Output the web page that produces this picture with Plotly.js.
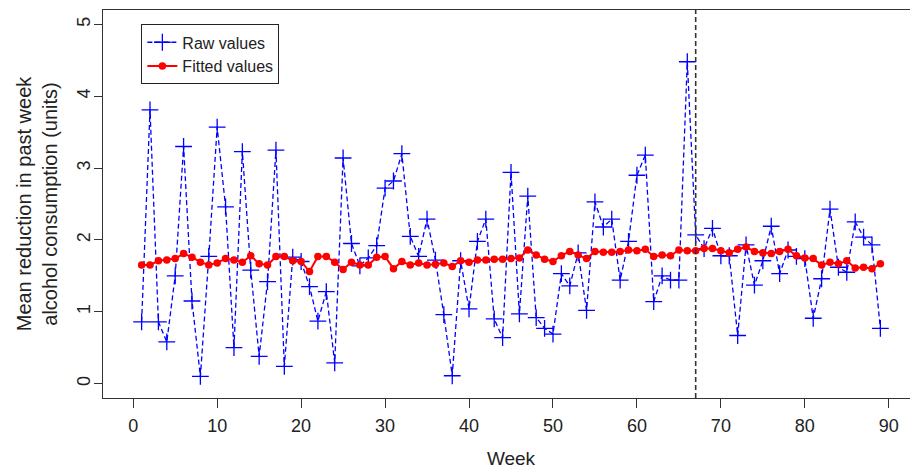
<!DOCTYPE html>
<html>
<head>
<meta charset="utf-8">
<script src="https://cdn.plot.ly/plotly-3.0.1.min.js"></script>
<style>
html, body { margin: 0; padding: 0; overflow: hidden; background: #ffffff; }
#chart { width: 930px; height: 469px; }
</style>
</head>
<body>
<div id="chart"></div>
<script>
// Week numbers 1..89
const weeks = [1,2,3,4,5,6,7,8,9,10,11,12,13,14,15,16,17,18,19,20,21,22,23,24,25,26,27,28,29,30,
  31,32,33,34,35,36,37,38,39,40,41,42,43,44,45,46,47,48,49,50,51,52,53,54,55,56,57,58,59,60,
  61,62,63,64,65,66,67,68,69,70,71,72,73,74,75,76,77,78,79,80,81,82,83,84,85,86,87,88,89];

const rawValues = [0.86,3.81,0.86,0.58,1.50,3.30,1.15,0.10,1.77,3.57,2.46,0.50,3.23,1.58,0.38,1.42,3.25,0.24,1.76,1.70,
  1.35,0.87,1.28,0.29,3.14,1.95,1.64,1.75,1.92,2.72,2.82,3.20,2.05,1.77,2.29,1.72,0.96,0.11,1.71,1.04,
  1.98,2.29,0.90,0.64,2.94,0.97,2.61,0.92,0.77,0.69,1.53,1.36,1.82,1.02,2.53,2.18,2.29,1.44,1.98,2.90,
  3.18,1.14,1.50,1.44,1.44,4.48,2.07,1.88,2.16,1.78,1.78,0.67,1.93,1.37,1.71,2.19,1.53,1.86,1.77,1.74,
  0.91,1.46,2.43,1.62,1.55,2.25,2.04,1.93,0.77];

const fittedValues = [1.65,1.65,1.71,1.72,1.74,1.81,1.76,1.69,1.65,1.68,1.74,1.72,1.69,1.78,1.67,1.65,1.77,1.77,1.71,1.70,
  1.56,1.77,1.77,1.69,1.59,1.69,1.65,1.65,1.76,1.77,1.60,1.70,1.65,1.68,1.65,1.66,1.68,1.63,1.71,1.69,
  1.72,1.72,1.73,1.73,1.74,1.75,1.86,1.79,1.73,1.70,1.78,1.84,1.79,1.74,1.84,1.83,1.83,1.84,1.86,1.85,
  1.87,1.77,1.79,1.78,1.86,1.85,1.85,1.88,1.88,1.85,1.82,1.87,1.90,1.84,1.82,1.81,1.84,1.87,1.78,1.75,
  1.74,1.65,1.69,1.67,1.71,1.61,1.62,1.60,1.67];

const xTicks = [0,10,20,30,40,50,60,70,80,90];
const yTicks = [0,1,2,3,4,5];
const cutWeek = 67;

const FONT = 'Liberation Sans, Arial, sans-serif';
const AX = '#333333';

const traces = [
  {
    x: weeks, y: rawValues, name: 'Raw values', type: 'scatter', mode: 'lines+markers',
    line: { color: '#0000ff', width: 1.3, dash: '5px,3px' },
    marker: { symbol: 'cross-thin', size: 12, line: { color: '#0000ff', width: 1.3 }, color: '#0000ff' }
  },
  {
    x: weeks, y: fittedValues, name: 'Fitted values', type: 'scatter', mode: 'lines+markers',
    line: { color: '#ff0000', width: 2 },
    marker: { symbol: 'circle', size: 7.5, color: '#ff0000' }
  }
];

const layout = {
  width: 930, height: 469,
  margin: { l: 103, r: 11, t: 10, b: 71, pad: 0 },
  paper_bgcolor: '#ffffff', plot_bgcolor: '#ffffff',
  font: { family: FONT, color: '#222222', size: 18 },
  showlegend: true,
  legend: {
    x: 0.047, y: 0.963, xanchor: 'left', yanchor: 'top',
    bgcolor: '#ffffff', bordercolor: '#222222', borderwidth: 1,
    font: { family: FONT, size: 16, color: '#222222' },
    tracegroupgap: 0
  },
  xaxis: {
    range: [-3.6, 93.6], tickvals: xTicks, ticktext: xTicks.map(String),
    ticks: 'outside', ticklen: 9, tickwidth: 1, tickcolor: AX,
    showline: true, linecolor: AX, linewidth: 1, mirror: true,
    showgrid: false, zeroline: false, automargin: false,
    ticklabelstandoff: 2,
    tickfont: { family: FONT, size: 18, color: '#222222' },
    title: { text: 'Week', font: { family: FONT, size: 19, color: '#222222' }, standoff: 18 }
  },
  yaxis: {
    range: [-0.2, 5.2], tickvals: yTicks, ticktext: yTicks.map(String),
    ticks: 'outside', ticklen: 8, tickwidth: 1, tickcolor: AX, tickangle: -90,
    showline: true, linecolor: AX, linewidth: 1, mirror: true,
    showgrid: false, zeroline: false, automargin: false,
    ticklabelstandoff: -3,
    tickfont: { family: FONT, size: 18, color: '#222222' },
    title: { text: 'Mean reduction in past week<br>alcohol consumption (units)',
             font: { family: FONT, size: 20, color: '#222222' }, standoff: 10 }
  },
  shapes: [
    { type: 'line', xref: 'x', yref: 'paper', x0: cutWeek, x1: cutWeek, y0: 0, y1: 1,
      line: { color: '#333333', width: 1.6, dash: '5px,3px' } }
  ]
};

Plotly.newPlot('chart', traces, layout, { displayModeBar: false, staticPlot: true });
</script>
</body>
</html>
